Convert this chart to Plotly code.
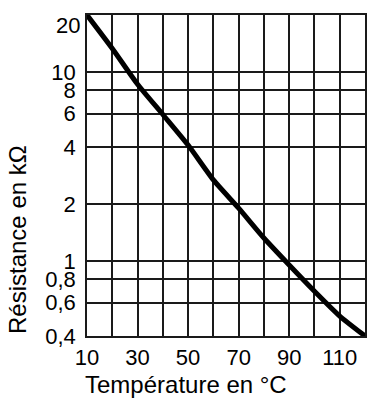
import plotly.graph_objects as go

temperature = [10, 20, 30, 40, 50, 60, 70, 80, 90, 100, 110, 120]
resistance = [20, 13.3, 8.6, 5.95, 4.1, 2.68, 1.9, 1.32, 0.95, 0.69, 0.51, 0.4]

x_grid = [10, 20, 30, 40, 50, 60, 70, 80, 90, 100, 110, 120]
x_labels = ["10", "", "30", "", "50", "", "70", "", "90", "", "110", ""]
y_grid = [0.4, 0.6, 0.8, 1, 2, 4, 6, 8, 10, 20]
y_labels = ["0,4", "0,6", "0,8", "1", "2", "4", "6", "8", "10", ""]
top_label = "20"

x_title = "Température en °C"
y_title = "Résistance en kΩ"

FONT = "Liberation Sans, Arial, sans-serif"
GRID = "#1a1a1a"
TICK_SIZE = 22
TITLE_SIZE = 24

# plot-area pixel box
pl, pr, pt, pb = 87, 365, 15, 336
W, H = 373, 401

fig = go.Figure()
fig.add_trace(go.Scatter(
    x=temperature, y=resistance, mode="lines",
    line=dict(color="black", width=5, shape="spline", smoothing=0.6),
    hoverinfo="skip", showlegend=False,
))

fig.update_layout(
    width=W, height=H,
    margin=dict(l=pl, r=W - pr, t=pt, b=H - pb, pad=0),
    paper_bgcolor="white", plot_bgcolor="white",
    font=dict(family=FONT, color="black", size=TICK_SIZE),
    showlegend=False,
)
fig.update_xaxes(
    range=[10, 120], tickvals=x_grid, ticktext=x_labels, automargin=False,
    showgrid=True, gridcolor=GRID, gridwidth=1.6,
    showline=True, linecolor=GRID, linewidth=1.6, mirror=True,
    ticks="", ticklabelstandoff=1, tickfont=dict(size=TICK_SIZE, family=FONT), zeroline=False,
)
fig.update_yaxes(
    type="log", range=[-0.39794, 1.30103], tickvals=y_grid, ticktext=y_labels, automargin=False,
    showgrid=True, gridcolor=GRID, gridwidth=1.6,
    showline=True, linecolor=GRID, linewidth=1.6, mirror=True,
    ticks="", ticklabelstandoff=5, tickfont=dict(size=TICK_SIZE, family=FONT), zeroline=False,
)

fig.add_annotation(
    x=0, xref="paper", y=1, yref="paper", text=top_label, showarrow=False,
    xanchor="right", yanchor="top", xshift=-5, yshift=4,
    font=dict(size=TICK_SIZE, family=FONT),
)


def px_to_paper(px, py):
    return (px - pl) / (pr - pl), (pb - py) / (pb - pt)


tx, ty = px_to_paper(186, 385)
fig.add_annotation(
    x=tx, y=ty, xref="paper", yref="paper", text=x_title, showarrow=False,
    xanchor="center", yanchor="middle",
    font=dict(size=TITLE_SIZE, family=FONT),
)
yx, yy = px_to_paper(17, 240)
fig.add_annotation(
    x=yx, y=yy, xref="paper", yref="paper", text=y_title, showarrow=False,
    xanchor="center", yanchor="middle", textangle=-90,
    font=dict(size=TITLE_SIZE, family=FONT),
)

fig.write_html(
    "out.html",
    config={"displayModeBar": False},
    post_script="document.body.style.margin='0';document.body.style.overflow='hidden';",
)
